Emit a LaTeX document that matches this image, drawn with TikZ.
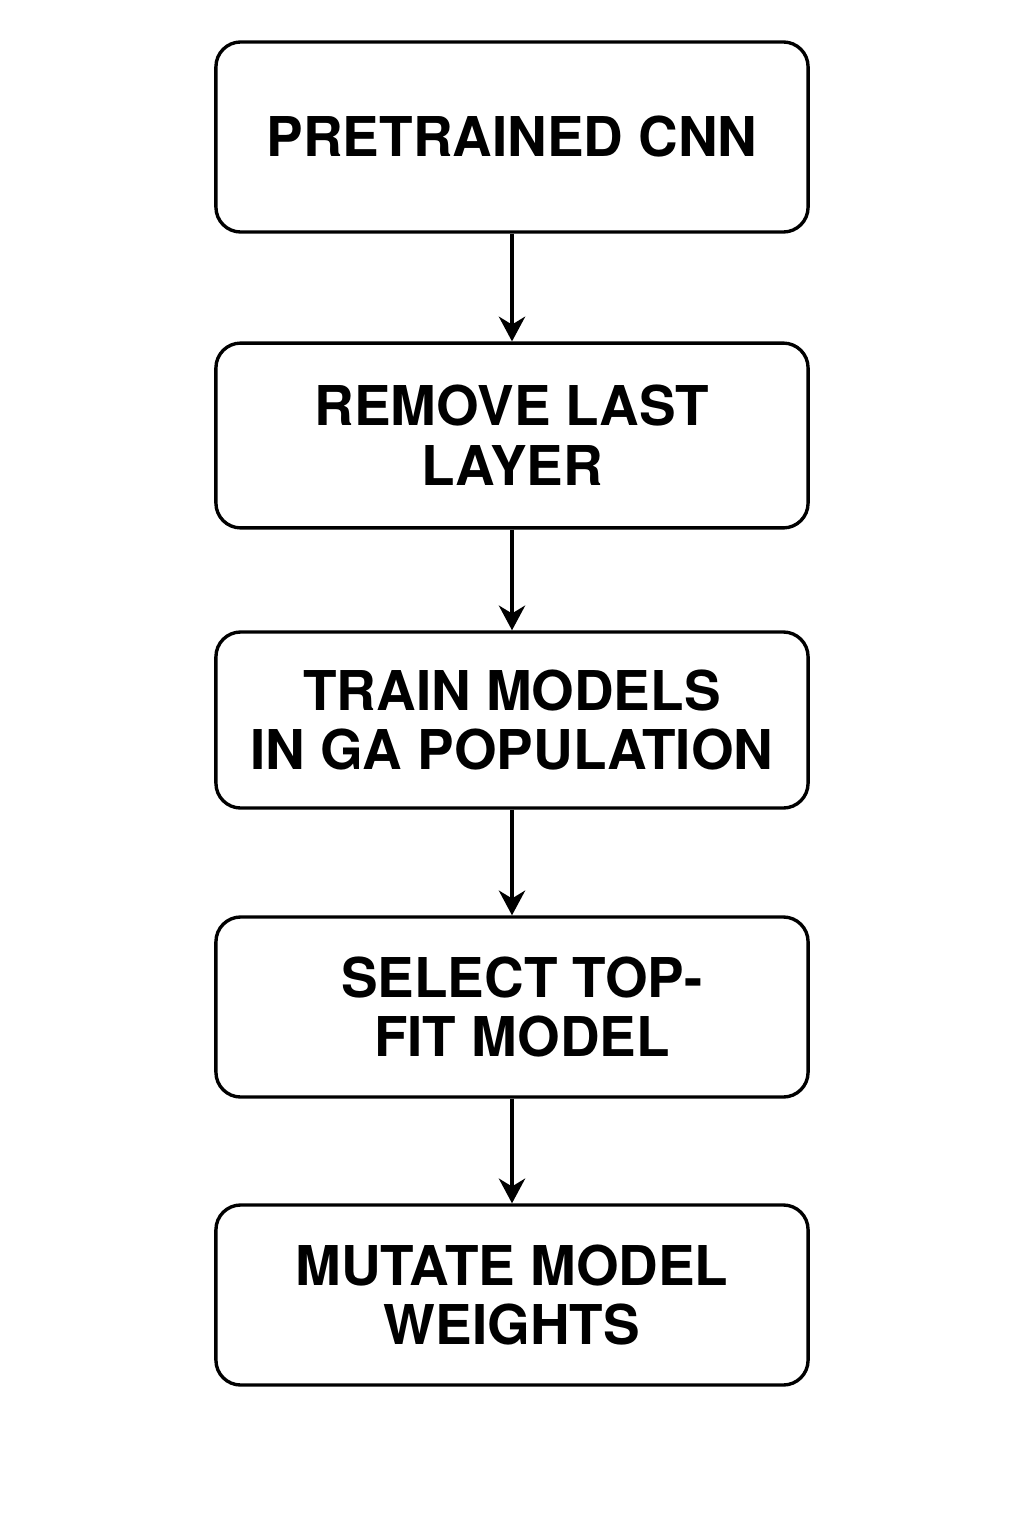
\documentclass[tikz,border=0pt]{standalone}
\usepackage{fontspec}
\setmainfont{TeX Gyre Heros}
\usetikzlibrary{arrows.meta}

\tikzset{
  stagebox/.style={draw, line width=2.4pt, rounded corners=0.62cm, minimum width=14.8cm,
    align=center, inner sep=0pt, font=\fontsize{39}{42.5}\selectfont\bfseries},
  flow/.style={line width=2.2pt, -{Stealth[length=0.62cm, width=0.66cm, inset=0.2cm]}}
}

\begin{document}
\begin{tikzpicture}[x=0.025cm, y=-0.025cm]

\useasboundingbox (0,0) rectangle (1024,1536);

\def\xc{512}; % column centre

\node[stagebox, minimum height=4.75cm] (cnn) at (\xc, 137) {PRETRAINED CNN};
\node[stagebox, minimum height=4.62cm] (remove) at (\xc, 435.5) {REMOVE LAST\\LAYER};
\node[stagebox, minimum height=4.4cm] (train) at (\xc, 720) {TRAIN MODELS\\IN GA POPULATION};
\node[stagebox, minimum height=4.5cm] (select) at (\xc, 1007) {\hspace{0.5cm}SELECT TOP-\\\hspace{0.5cm}FIT MODEL};
\node[stagebox, minimum height=4.5cm] (mutate) at (\xc, 1295) {MUTATE MODEL\\WEIGHTS};

\draw[flow] (cnn) -- (remove);
\draw[flow] (remove) -- (train);
\draw[flow] (train) -- (select);
\draw[flow] (select) -- (mutate);

\end{tikzpicture}
\end{document}
